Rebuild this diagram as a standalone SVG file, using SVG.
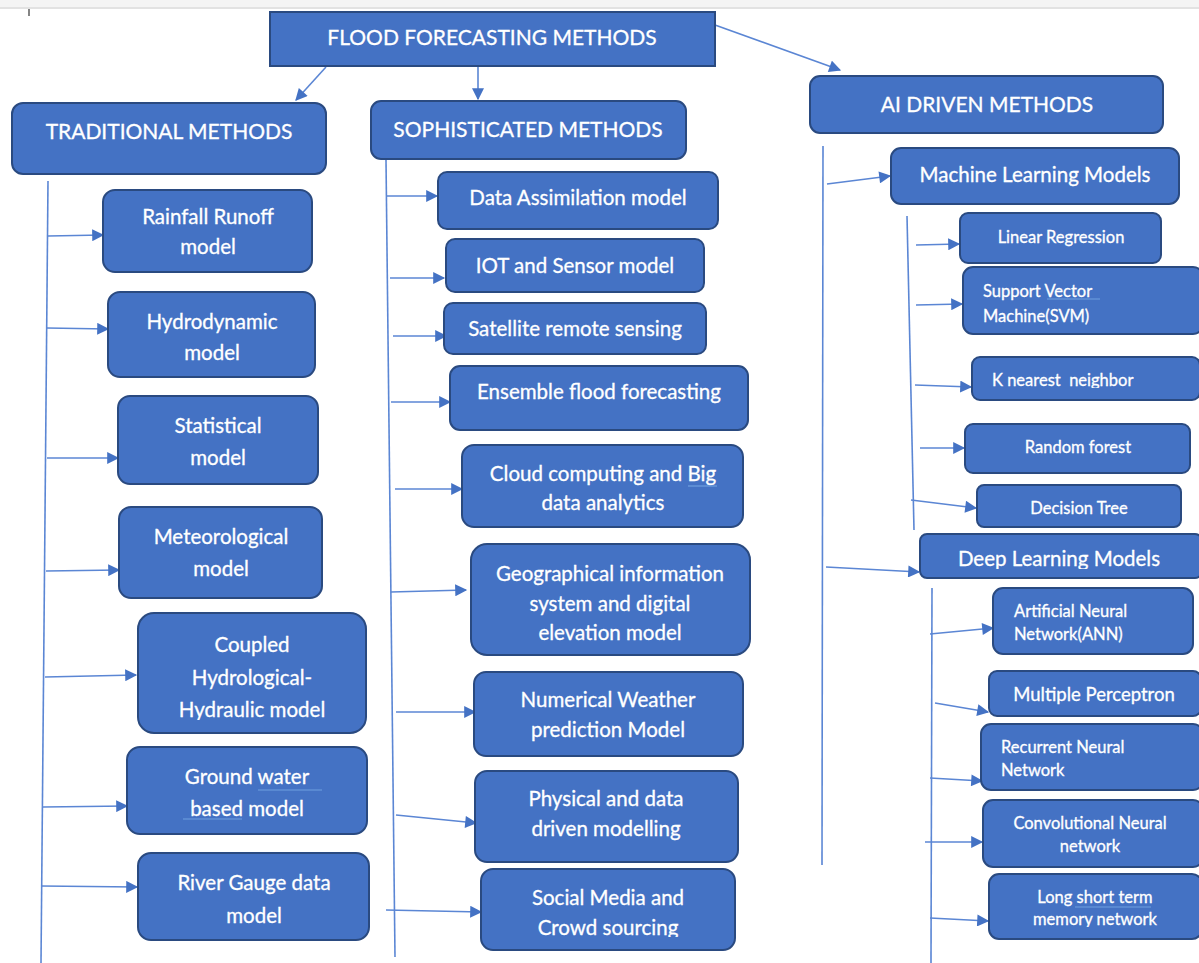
<svg xmlns="http://www.w3.org/2000/svg" width="1199" height="963" viewBox="0 0 1199 963">
<style>
.box{fill:#4472C4;stroke:#2A4A80;stroke-width:2}
.t{fill:#fff;stroke:#fff;stroke-width:0.3;font-family:Lato,"Open Sans","Liberation Sans",sans-serif;text-anchor:middle}
.tl{fill:#fff;stroke:#fff;stroke-width:0.3;font-family:Lato,"Open Sans","Liberation Sans",sans-serif;text-anchor:start}
.h{font-size:21px}
.m{font-size:20.5px}
.s{font-size:16.5px}
.c{stroke:#5B86D4;stroke-width:1.6;fill:none}
.a{stroke:#5B86D4;stroke-width:1.6;fill:none;marker-end:url(#ah)}
.u{stroke:#6FA0E0;stroke-width:1.2}
</style>
<defs>
<marker id="ah" viewBox="0 0 10 10" refX="9" refY="5" markerWidth="13" markerHeight="12" markerUnits="userSpaceOnUse" orient="auto">
<path d="M0,0 L10,5 L0,10 z" fill="#4472C4"/>
</marker>
<clipPath id="cpDL"><rect x="920" y="534" width="279" height="35"/></clipPath>
<clipPath id="cpSM"><rect x="481" y="869" width="254" height="68"/></clipPath>
<clipPath id="cpLS"><rect x="989" y="874" width="210" height="53"/></clipPath>
<clipPath id="cpKN"><rect x="972" y="357" width="225" height="31"/></clipPath>
<clipPath id="cpCH"><rect x="138" y="613" width="228" height="107"/></clipPath>
</defs>
<rect width="1199" height="963" fill="#fff"/>
<rect x="0" y="0" width="1199" height="7" fill="#f4f4f4"/>
<line x1="0" y1="8" x2="1199" y2="8" stroke="#e2e2e2" stroke-width="2"/>
<line x1="29" y1="9" x2="29" y2="16" stroke="#333" stroke-width="1.2"/>

<g id="connectors">
<line class="a" x1="326" y1="67" x2="296" y2="100"/>
<line class="a" x1="478" y1="66" x2="478" y2="99"/>
<line class="a" x1="715" y1="25" x2="840" y2="70"/>
<line class="c" x1="48" y1="181" x2="41" y2="963"/>
<line class="a" x1="48" y1="236" x2="103" y2="235"/>
<line class="a" x1="47" y1="328" x2="108" y2="329"/>
<line class="a" x1="47" y1="458" x2="118" y2="458"/>
<line class="a" x1="46" y1="571" x2="119" y2="570"/>
<line class="a" x1="45" y1="677" x2="136" y2="675"/>
<line class="a" x1="43" y1="807" x2="127" y2="806"/>
<line class="a" x1="41" y1="886" x2="137" y2="887"/>
<line class="c" x1="386" y1="160" x2="395" y2="957"/>
<line class="a" x1="386" y1="196" x2="437" y2="196"/>
<line class="a" x1="390" y1="278" x2="444" y2="278"/>
<line class="a" x1="393" y1="336" x2="446" y2="336"/>
<line class="a" x1="391" y1="402" x2="450" y2="402"/>
<line class="a" x1="395" y1="489" x2="462" y2="489"/>
<line class="a" x1="391" y1="592" x2="466" y2="590"/>
<line class="a" x1="396" y1="712" x2="475" y2="712"/>
<line class="a" x1="396" y1="815" x2="476" y2="823"/>
<line class="a" x1="386" y1="910" x2="481" y2="912"/>
<line class="c" x1="823" y1="146" x2="822" y2="865"/>
<line class="a" x1="827" y1="184" x2="890" y2="176"/>
<line class="a" x1="826" y1="567" x2="919" y2="572"/>
<line class="c" x1="907" y1="216" x2="914" y2="530"/>
<line class="a" x1="916" y1="245" x2="959" y2="244"/>
<line class="a" x1="916" y1="305" x2="962" y2="304"/>
<line class="a" x1="915" y1="385" x2="971" y2="387"/>
<line class="a" x1="920" y1="448" x2="964" y2="448"/>
<line class="a" x1="911" y1="500" x2="976" y2="508"/>
<line class="c" x1="932" y1="588" x2="931" y2="963"/>
<line class="a" x1="930" y1="634" x2="993" y2="628"/>
<line class="a" x1="935" y1="703" x2="988" y2="712"/>
<line class="a" x1="930" y1="778" x2="982" y2="781"/>
<line class="a" x1="925" y1="842" x2="982" y2="842"/>
<line class="a" x1="930" y1="918" x2="988" y2="921"/>
</g>

<g id="root">
<rect class="box" x="270" y="12" width="445" height="54"/>
<text class="t h" x="492" y="45">FLOOD FORECASTING METHODS</text>
</g>

<g id="traditional">
<rect class="box" x="12" y="103" width="314" height="71" rx="11"/>
<text class="t h" x="169" y="139">TRADITIONAL METHODS</text>
</g>
<g id="sophisticated">
<rect class="box" x="371" y="101" width="315" height="58" rx="10"/>
<text class="t h" x="528" y="137">SOPHISTICATED METHODS</text>
</g>
<g id="ai">
<rect class="box" x="810" y="76" width="353" height="57" rx="10"/>
<text class="t h" x="987" y="112">AI DRIVEN METHODS</text>
</g>

<g id="rainfall">
<rect class="box" x="103" y="190" width="209" height="82" rx="12"/>
<text class="t m" x="208" y="224">Rainfall Runoff</text>
<text class="t m" x="208" y="254">model</text>
</g>
<g id="hydrodynamic">
<rect class="box" x="108" y="292" width="207" height="85" rx="12"/>
<text class="t m" x="212" y="329">Hydrodynamic</text>
<text class="t m" x="212" y="360">model</text>
</g>
<g id="statistical">
<rect class="box" x="118" y="396" width="200" height="88" rx="12"/>
<text class="t m" x="218" y="433">Statistical</text>
<text class="t m" x="218" y="465">model</text>
</g>
<g id="meteorological">
<rect class="box" x="119" y="507" width="203" height="91" rx="12"/>
<text class="t m" x="221" y="544">Meteorological</text>
<text class="t m" x="221" y="576">model</text>
</g>
<g id="coupled">
<rect class="box" x="138" y="613" width="228" height="120" rx="16"/>
<g clip-path="url(#cpCH)">
<text class="t m" x="252" y="652">Coupled</text>
<text class="t m" x="252" y="685">Hydrological-</text>
<text class="t m" x="252" y="717">Hydraulic model</text>
</g>
</g>
<g id="groundwater">
<rect class="box" x="127" y="747" width="240" height="87" rx="13"/>
<text class="t m" x="247" y="784">Ground water</text>
<text class="t m" x="247" y="816">based model</text>
<line class="u" x1="258" y1="790" x2="322" y2="790"/>
<line class="u" x1="183" y1="819" x2="242" y2="819"/>
</g>
<g id="rivergauge">
<rect class="box" x="138" y="853" width="231" height="87" rx="13"/>
<text class="t m" x="254" y="890">River Gauge data</text>
<text class="t m" x="254" y="923">model</text>
</g>

<g id="dataassim">
<rect class="box" x="438" y="172" width="280" height="57" rx="9"/>
<text class="t m" x="578" y="205">Data Assimilation model</text>
</g>
<g id="iot">
<rect class="box" x="446" y="239" width="258" height="53" rx="9"/>
<text class="t m" x="575" y="273">IOT and Sensor model</text>
</g>
<g id="satellite">
<rect class="box" x="444" y="303" width="262" height="51" rx="9"/>
<text class="t m" x="575" y="336">Satellite remote sensing</text>
</g>
<g id="ensemble">
<rect class="box" x="450" y="366" width="298" height="64" rx="10"/>
<text class="t m" x="599" y="399">Ensemble flood forecasting</text>
</g>
<g id="cloud">
<rect class="box" x="462" y="445" width="281" height="82" rx="12"/>
<text class="t m" x="603" y="481">Cloud computing and Big</text>
<text class="t m" x="603" y="510">data analytics</text>
<line class="u" x1="688" y1="486" x2="717" y2="486"/>
</g>
<g id="gis">
<rect class="box" x="471" y="544" width="279" height="111" rx="16"/>
<text class="t m" x="610" y="581">Geographical information</text>
<text class="t m" x="610" y="611">system and digital</text>
<text class="t m" x="610" y="640">elevation model</text>
</g>
<g id="nwp">
<rect class="box" x="474" y="672" width="269" height="84" rx="12"/>
<text class="t m" x="608" y="707">Numerical Weather</text>
<text class="t m" x="608" y="737">prediction Model</text>
</g>
<g id="physical">
<rect class="box" x="475" y="771" width="263" height="91" rx="12"/>
<text class="t m" x="606" y="806">Physical and data</text>
<text class="t m" x="606" y="836">driven modelling</text>
</g>
<g id="social">
<rect class="box" x="481" y="869" width="254" height="81" rx="12"/>
<g clip-path="url(#cpSM)">
<text class="t m" x="608" y="905">Social Media and</text>
<text class="t m" x="608" y="935">Crowd sourcing</text>
</g>
</g>

<g id="ml">
<rect class="box" x="891" y="148" width="288" height="56" rx="10"/>
<text class="t m" x="1035" y="182">Machine Learning Models</text>
</g>
<g id="linreg">
<rect class="box" x="960" y="213" width="201" height="50" rx="8"/>
<text class="t s" x="1061" y="243">Linear Regression</text>
</g>
<g id="svm">
<rect class="box" x="963" y="267" width="240" height="67" rx="10"/>
<text class="tl s" x="983" y="297">Support Vector</text>
<text class="tl s" x="983" y="322">Machine(SVM)</text>
<line class="u" x1="1047" y1="299" x2="1100" y2="299"/>
</g>
<g id="knn">
<rect class="box" x="972" y="357" width="228" height="43" rx="8"/>
<g clip-path="url(#cpKN)">
<text class="tl s" x="992" y="386" style="white-space:pre">K nearest  neighbor</text>
</g>
</g>
<g id="rf">
<rect class="box" x="965" y="424" width="225" height="49" rx="8"/>
<text class="t s" x="1078" y="453">Random forest</text>
</g>
<g id="dt">
<rect class="box" x="977" y="485" width="204" height="42" rx="7"/>
<text class="t s" x="1079" y="514">Decision Tree</text>
</g>
<g id="dl">
<rect class="box" x="920" y="534" width="282" height="44" rx="7"/>
<g clip-path="url(#cpDL)">
<text class="t m" x="1059" y="566">Deep Learning Models</text>
</g>
</g>
<g id="ann">
<rect class="box" x="993" y="588" width="200" height="66" rx="10"/>
<text class="tl s" x="1014" y="617">Artificial Neural</text>
<text class="tl s" x="1014" y="640">Network(ANN)</text>
</g>
<g id="mp">
<rect class="box" x="989" y="671" width="212" height="45" rx="8"/>
<text class="t" style="font-size:18.5px" x="1094" y="701">Multiple Perceptron</text>
</g>
<g id="rnn">
<rect class="box" x="981" y="724" width="222" height="66" rx="10"/>
<text class="tl s" x="1001" y="753">Recurrent Neural</text>
<text class="tl s" x="1001" y="776">Network</text>
</g>
<g id="cnn">
<rect class="box" x="983" y="800" width="220" height="67" rx="10"/>
<text class="t s" x="1090" y="829">Convolutional Neural</text>
<text class="t s" x="1090" y="852">network</text>
</g>
<g id="lstm">
<rect class="box" x="989" y="874" width="213" height="65" rx="10"/>
<g clip-path="url(#cpLS)">
<text class="t s" x="1095" y="903">Long short term</text>
<text class="t s" x="1095" y="925">memory network</text>
</g>
<line class="u" x1="1075" y1="907" x2="1151" y2="907"/>
</g>
</svg>
